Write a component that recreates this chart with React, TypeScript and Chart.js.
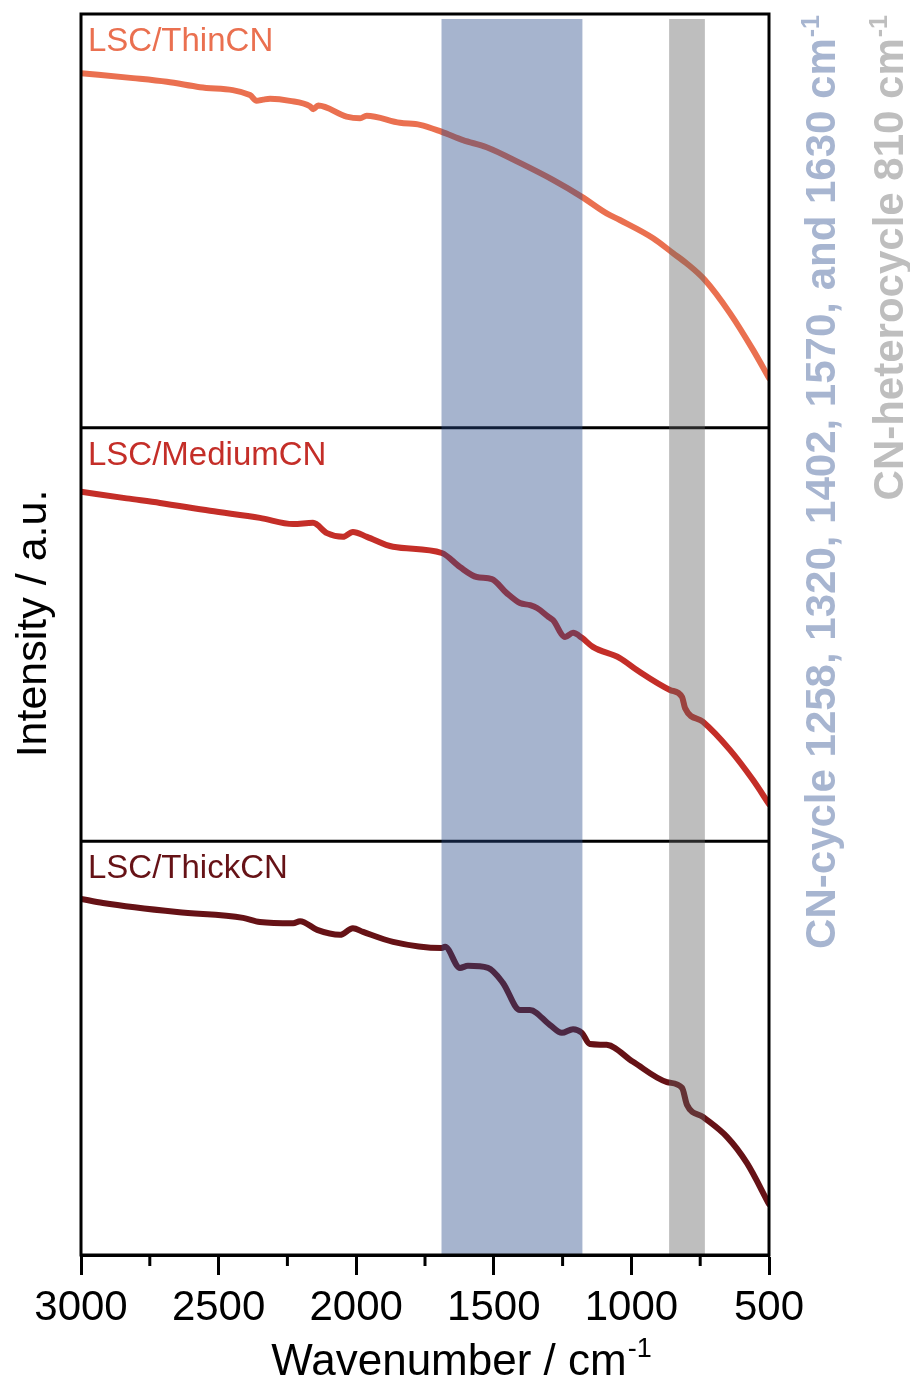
import React, { useEffect, useRef } from 'react';
import { Chart, registerables } from 'chart.js';

Chart.register(...registerables);

// Wavenumber axis (cm^-1)
const xMajorTicks = [3000, 2500, 2000, 1500, 1000, 500];
const xMinorTicks = [2750, 2250, 1750, 1250, 750];

// LSC/ThinCN spectrum
const thinWavenumber = [3000, 2811, 2688, 2568, 2386, 2362, 2338, 2313, 2241, 2168, 2156, 2138, 2035, 1986, 1962, 1841, 1768, 1689, 1612, 1526, 1405, 1285, 1180, 1090, 1042, 921, 849, 799, 733, 642, 558, 500];
const thinIntensity = [85.7, 84.5, 83.6, 82.3, 80.4, 79.0, 79.3, 79.5, 79.0, 77.7, 77.0, 77.9, 75.2, 74.8, 75.4, 73.7, 73.2, 71.5, 69.5, 67.8, 64.0, 59.9, 55.8, 51.8, 50.2, 45.8, 42.2, 39.7, 35.7, 27.7, 18.8, 12.0];

// LSC/MediumCN spectrum
const mediumWavenumber = [3000, 2834, 2713, 2531, 2350, 2229, 2157, 2106, 2048, 2012, 1961, 1866, 1689, 1623, 1562, 1507, 1453, 1405, 1368, 1343, 1302, 1285, 1241, 1212, 1180, 1140, 1042, 980, 860, 816, 805, 740, 642, 558, 500];
const mediumIntensity = [84.5, 82.9, 81.8, 79.9, 78.2, 76.7, 77.0, 74.5, 73.6, 74.8, 73.6, 71.2, 69.7, 66.3, 63.9, 63.4, 60.0, 57.6, 57.1, 56.4, 54.3, 53.5, 49.4, 50.4, 49.2, 47.0, 44.3, 41.4, 36.6, 34.9, 32.2, 28.9, 22.1, 14.8, 9.0];

// LSC/ThickCN spectrum
const thickWavenumber = [3000, 2920, 2651, 2411, 2350, 2229, 2204, 2142, 2059, 2012, 1975, 1866, 1689, 1677, 1623, 1594, 1521, 1467, 1405, 1369, 1296, 1253, 1212, 1180, 1151, 1090, 994, 871, 816, 798, 740, 652, 580, 500];
const thickIntensity = [86.1, 85.1, 82.9, 81.5, 80.5, 80.2, 80.7, 78.6, 77.4, 79.0, 78.1, 75.7, 74.2, 74.5, 69.4, 69.9, 69.4, 65.8, 59.2, 59.2, 55.6, 53.7, 54.6, 53.7, 51.0, 50.8, 46.7, 41.8, 40.4, 36.3, 33.4, 28.5, 22.2, 12.3];

const sampleNames = ['LSC/ThinCN', 'LSC/MediumCN', 'LSC/ThickCN'];
const sampleColors = ['rgb(234,112,80)', 'rgb(196,46,40)', 'rgb(102,18,22)'];

// Assignment bands (cm^-1)
const cnCycleBand = [1690, 1178];
const heterocycleBand = [863, 733];
const cnCycleLabel = 'CN-cycle 1258, 1320, 1402, 1570, and 1630 cm';
const heterocycleLabel = 'CN-heterocycle 810 cm';
const unitExponent = '-1';

const xTitle = 'Wavenumber / cm';
const yTitle = 'Intensity / a.u.';

const FONT = '"Liberation Sans", Arial, Helvetica, sans-serif';
const PANEL_SPAN = 100;

const toPoints = (xs: number[], ys: number[], offset: number) =>
  xs.map((x, i) => ({ x, y: ys[i] + offset }));

const panelPlugin = {
  id: 'panelDecor',
  beforeDatasetsDraw(chart: any) {
    const { ctx, chartArea: a, scales } = chart;
    const y = scales.y;
    ctx.save();
    ctx.strokeStyle = '#000';
    ctx.lineWidth = 3;
    [PANEL_SPAN, PANEL_SPAN * 2].forEach((v) => {
      const py = y.getPixelForValue(v);
      ctx.beginPath();
      ctx.moveTo(a.left, py);
      ctx.lineTo(a.right, py);
      ctx.stroke();
    });
    ctx.restore();
  },
  afterDatasetsDraw(chart: any) {
    const { ctx, chartArea: a, scales } = chart;
    const x = scales.x;
    const y = scales.y;
    ctx.save();
    const bandTop = a.top + 5;
    const band = (r: number[], color: string) => {
      const x0 = x.getPixelForValue(r[0]);
      const x1 = x.getPixelForValue(r[1]);
      ctx.fillStyle = color;
      ctx.fillRect(Math.min(x0, x1), bandTop, Math.abs(x1 - x0), a.bottom - bandTop);
    };
    band(cnCycleBand, 'rgba(40,72,135,0.41)');
    band(heterocycleBand, 'rgba(96,96,96,0.41)');

    ctx.strokeStyle = '#000';
    ctx.lineWidth = 3;
    ctx.strokeRect(a.left, a.top, a.right - a.left, a.bottom - a.top);

    xMinorTicks.forEach((v) => {
      const px = x.getPixelForValue(v);
      ctx.beginPath();
      ctx.moveTo(px, a.bottom);
      ctx.lineTo(px, a.bottom + 11);
      ctx.stroke();
    });

    ctx.font = `33px ${FONT}`;
    ctx.textAlign = 'left';
    ctx.textBaseline = 'alphabetic';
    sampleNames.forEach((name, i) => {
      const panelTop = y.getPixelForValue(PANEL_SPAN * (3 - i));
      ctx.fillStyle = sampleColors[i];
      ctx.fillText(name, a.left + 7, panelTop + 37);
    });
    ctx.restore();
  },
  afterDraw(chart: any) {
    const { ctx, chartArea: a } = chart;
    ctx.save();

    // x-axis title with superscript unit
    ctx.fillStyle = '#000';
    ctx.textAlign = 'left';
    ctx.textBaseline = 'alphabetic';
    ctx.font = `44px ${FONT}`;
    const wMain = ctx.measureText(xTitle).width;
    ctx.font = `27px ${FONT}`;
    const wSup = ctx.measureText(unitExponent).width;
    const cx = (a.left + a.right) / 2 + 36;
    const startX = cx - (wMain + wSup) / 2;
    ctx.font = `44px ${FONT}`;
    ctx.fillText(xTitle, startX, 1375);
    ctx.font = `27px ${FONT}`;
    ctx.fillText(unitExponent, startX + wMain + 1, 1357);

    // y-axis title
    ctx.save();
    ctx.translate(46, (a.top + a.bottom) / 2 - 11);
    ctx.rotate(-Math.PI / 2);
    ctx.textAlign = 'center';
    ctx.font = `43px ${FONT}`;
    ctx.fillText(yTitle, 0, 0);
    ctx.restore();

    // rotated band annotations, ending near the top edge
    const vertical = (text: string, baseX: number, endY: number, color: string) => {
      ctx.save();
      ctx.translate(baseX, endY);
      ctx.rotate(-Math.PI / 2);
      ctx.fillStyle = color;
      ctx.textAlign = 'left';
      ctx.font = `bold 42px ${FONT}`;
      const wm = ctx.measureText(text).width;
      ctx.font = `bold 25px ${FONT}`;
      const ws = ctx.measureText(unitExponent).width;
      const total = wm + ws + 1;
      ctx.font = `bold 42px ${FONT}`;
      ctx.fillText(text, -total, 0);
      ctx.font = `bold 25px ${FONT}`;
      ctx.fillText(unitExponent, -total + wm + 1, -16);
      ctx.restore();
    };
    vertical(cnCycleLabel, 835, 15, 'rgb(167,181,208)');
    vertical(heterocycleLabel, 903, 15, 'rgb(190,190,190)');

    ctx.restore();
  },
};

export default function App() {
  const canvasRef = useRef<HTMLCanvasElement>(null);

  useEffect(() => {
    const canvas = canvasRef.current;
    if (!canvas) return;
    const series = [
      { xs: thinWavenumber, ys: thinIntensity, offset: PANEL_SPAN * 2 },
      { xs: mediumWavenumber, ys: mediumIntensity, offset: PANEL_SPAN },
      { xs: thickWavenumber, ys: thickIntensity, offset: 0 },
    ];
    const chart = new Chart(canvas, {
      type: 'line',
      data: {
        datasets: series.map((s, i) => ({
          label: sampleNames[i],
          data: toPoints(s.xs, s.ys, s.offset),
          borderColor: sampleColors[i],
          backgroundColor: sampleColors[i],
          borderWidth: 6,
          pointRadius: 0,
          cubicInterpolationMode: 'monotone' as const,
          borderCapStyle: 'round' as const,
          borderJoinStyle: 'round' as const,
          fill: false,
        })),
      },
      options: {
        responsive: false,
        animation: false,
        devicePixelRatio: 1,
        layout: { padding: { left: 81, right: 141, top: 14, bottom: 0 } },
        plugins: {
          legend: { display: false },
          tooltip: { enabled: false },
        },
        scales: {
          x: {
            type: 'linear',
            reverse: true,
            min: 500,
            max: 3000,
            afterBuildTicks: (scale: any) => {
              scale.ticks = xMajorTicks.map((value) => ({ value }));
            },
            afterFit: (scale: any) => {
              scale.height = 127;
            },
            ticks: {
              color: '#000',
              font: { family: FONT, size: 42 },
              padding: 8,
              maxRotation: 0,
              autoSkip: false,
              callback: (v: any) => String(v),
            },
            grid: {
              drawOnChartArea: false,
              tickLength: 20,
              tickWidth: 3,
              tickColor: '#000',
            },
            border: { display: true, color: '#000', width: 3 },
          },
          y: {
            type: 'linear',
            display: false,
            min: 0,
            max: PANEL_SPAN * 3,
          },
        },
      },
      plugins: [panelPlugin],
    } as any);
    return () => chart.destroy();
  }, []);

  return (
    <div style={{ position: 'fixed', left: 0, top: 0, width: 910, height: 1382, background: '#fff' }}>
      <canvas ref={canvasRef} width={910} height={1382} style={{ display: 'block', width: 910, height: 1382 }} />
    </div>
  );
}
